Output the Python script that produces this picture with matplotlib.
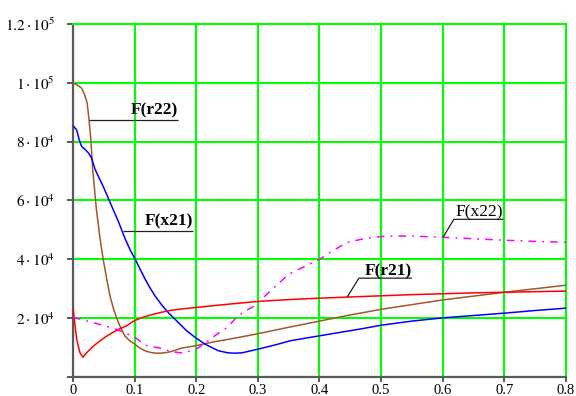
import matplotlib
matplotlib.use("Agg")
import matplotlib.pyplot as plt

# ---- data -------------------------------------------------------------
r22_x = [0.0, 0.003, 0.008, 0.014, 0.019, 0.023, 0.026, 0.029, 0.032, 0.038,
         0.044, 0.049, 0.055, 0.060, 0.066, 0.071, 0.076, 0.084, 0.092, 0.100,
         0.108, 0.117, 0.125, 0.133, 0.143, 0.154, 0.165, 0.176, 0.198, 0.230,
         0.265, 0.300, 0.350, 0.400, 0.450, 0.500, 0.550, 0.600, 0.650, 0.700,
         0.750, 0.800]
r22_y = [100000, 99700, 99100, 98200, 95900, 93100, 87500, 80700, 70500, 57000,
         47000, 40000, 33000, 27600, 23000, 20000, 17400, 14000, 12300, 11200,
         9900, 8900, 8400, 8100, 8100, 8400, 9000, 9800, 10600, 12000,
         13300, 14700, 16900, 19000, 21100, 23000, 24600, 26200, 27500, 28800,
         30000, 31200]

x21_x = [0.0, 0.006, 0.010, 0.014, 0.020, 0.025, 0.030, 0.036, 0.049, 0.063,
         0.074, 0.084, 0.093, 0.101, 0.109, 0.117, 0.125, 0.133, 0.144, 0.155,
         0.171, 0.184, 0.198, 0.214, 0.236, 0.252, 0.263, 0.274, 0.301, 0.330,
         0.352, 0.400, 0.466, 0.500, 0.550, 0.600, 0.650, 0.700, 0.750, 0.800]
x21_y = [85400, 84000, 80700, 78400, 77300, 76200, 74500, 70500, 64800, 58000,
         52700, 47300, 43100, 40000, 36600, 33300, 30300, 27600, 24500, 21800,
         18500, 15800, 13500, 11200, 8900, 8200, 8100, 8200, 9500, 11000,
         12300, 14000, 16300, 17600, 19000, 20100, 20900, 21700, 22600, 23400]

r21_x = [0.0, 0.002, 0.006, 0.011, 0.016, 0.022, 0.028, 0.036, 0.044, 0.054,
         0.065, 0.076, 0.087, 0.100, 0.115, 0.130, 0.154, 0.175, 0.198, 0.230,
         0.265, 0.300, 0.350, 0.400, 0.450, 0.500, 0.550, 0.600, 0.650, 0.700,
         0.750, 0.800]
r21_y = [23600, 19700, 12900, 8400, 6700, 8200, 9500, 11000, 12300, 13800,
         15200, 16400, 17400, 19200, 20400, 21300, 22500, 23100, 23600, 24300,
         25000, 25700, 26300, 26800, 27200, 27600, 28000, 28300, 28600, 28800,
         29000, 29200]

x22_x = [0.0, 0.011, 0.036, 0.052, 0.070, 0.084, 0.100, 0.117, 0.144, 0.160,
         0.179, 0.200, 0.215, 0.230, 0.250, 0.263, 0.276, 0.295, 0.323, 0.350,
         0.380, 0.400, 0.417, 0.444, 0.470, 0.487, 0.510, 0.550, 0.600, 0.650,
         0.700, 0.750, 0.800]
x22_y = [20300, 19700, 18300, 17400, 16200, 15000, 13600, 10800, 9700, 8600,
         8100, 9500, 11600, 14000, 16800, 19700, 22000, 24200, 29800, 34900,
         38000, 40000, 42300, 45700, 46900, 47500, 47900, 47900, 47500, 47000,
         46500, 46100, 45800]

x_ticks = [0, 0.1, 0.2, 0.3, 0.4, 0.5, 0.6, 0.7, 0.8]
x_tick_labels = ["0", "0.1", "0.2", "0.3", "0.4", "0.5", "0.6", "0.7", "0.8"]
y_ticks = [0, 20000, 40000, 60000, 80000, 100000, 120000]
y_tick_labels = ["", r"$2\cdot10^{4}$", r"$4\cdot10^{4}$", r"$6\cdot10^{4}$",
                 r"$8\cdot10^{4}$", r"$1\cdot10^{5}$", r"$1.2\cdot10^{5}$"]

# ---- style --------------------------------------------------------------
plt.rcParams["font.family"] = ["Liberation Serif", "DejaVu Serif"]
plt.rcParams["mathtext.fontset"] = "stix"

BROWN = "#A0582A"
BLUE = "#0000FF"
RED = "#FF0000"
MAGENTA = "#FF00FF"
GRID = "#00FF00"
AXIS = "#5A5A5A"

fig = plt.figure(figsize=(5.76, 3.96), dpi=100)
ax = fig.add_axes([0.1267, 0.0480, 0.8559, 0.8914])

ax.plot(r22_x, r22_y, color=BROWN, lw=1.1, zorder=3)
ax.plot(x21_x, x21_y, color=BLUE, lw=1.1, zorder=3)
ax.plot(r21_x, r21_y, color=RED, lw=1.1, zorder=3)
ax.plot(x22_x, x22_y, color=MAGENTA, lw=1.1, zorder=3,
        dashes=(5, 4, 1.2, 4))

ax.set_xlim(0, 0.8)
ax.set_ylim(0, 120000)
ax.set_xticks(x_ticks)
ax.set_xticklabels(x_tick_labels)
ax.set_yticks(y_ticks)
ax.set_yticklabels(y_tick_labels)

ax.set_axisbelow(True)
ax.grid(True, color=GRID, lw=1.5)
for side in ("left", "bottom"):
    ax.spines[side].set_color(AXIS)
    ax.spines[side].set_linewidth(1.6)
for side in ("top", "right"):
    ax.spines[side].set_color(GRID)
    ax.spines[side].set_linewidth(1.5)

ax.tick_params(axis="y", direction="out", length=4, width=1.4, color=AXIS,
               pad=9, labelsize=11)
ax.tick_params(axis="x", direction="out", length=3.5, width=1.4, color=AXIS,
               pad=1.5, labelsize=10.5)


# ---- curve labels with leader lines -----------------------------------
def leader(text, curve_xy, corner, end_x, base_y, bold=True):
    xs = [curve_xy[0], corner[0], end_x]
    ys = [curve_xy[1], corner[1], corner[1]]
    ax.plot(xs, ys, color="#202020", lw=0.9, zorder=4, solid_capstyle="butt")
    ax.text(end_x, base_y, text, ha="right", va="baseline", fontsize=12.5,
            fontweight="bold" if bold else "normal", color="black", zorder=5)


leader("F(r22)", (0.026, 87500), (0.026, 87500), 0.1705, 89400)
leader("F(x21)", (0.081, 49500), (0.081, 49500), 0.195, 51600)
leader("F(r21)", (0.445, 27200), (0.464, 33600), 0.550, 34500)
leader("F(x22)", (0.6006, 47500), (0.618, 53600), 0.698, 54600, bold=False)

fig.savefig("out.png", dpi=100, facecolor="white")
